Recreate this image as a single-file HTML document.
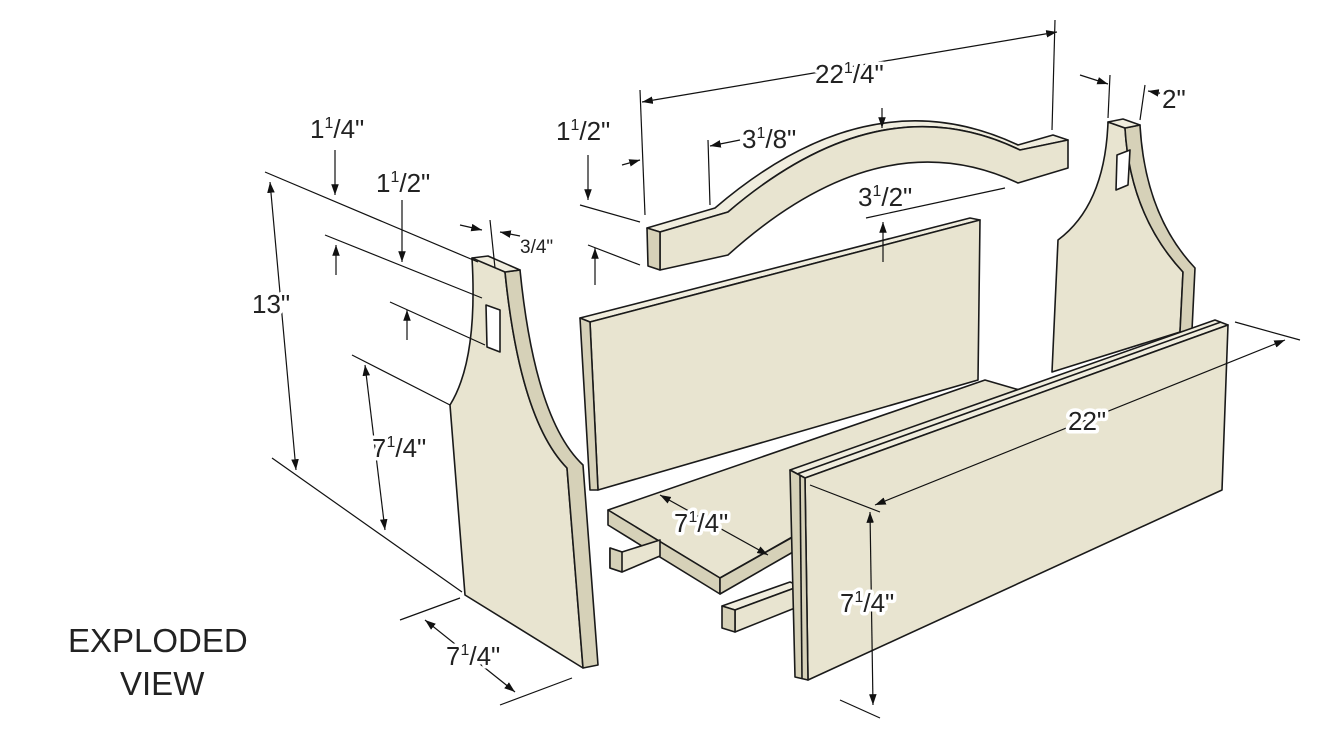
<!DOCTYPE html>
<html><head><meta charset="utf-8"><style>
html,body{margin:0;padding:0;background:#fff;}
svg{display:block}
text{font-family:"Liberation Sans",sans-serif;fill:#222;stroke:#fff;stroke-width:7px;paint-order:stroke;stroke-linejoin:round;}
.t{font-size:26px}
.s{font-size:16px}
</style></head><body>
<svg width="1330" height="741" viewBox="0 0 1330 741" xmlns="http://www.w3.org/2000/svg">
<defs><marker id="a" viewBox="0 0 10 10" refX="10" refY="5" markerWidth="9" markerHeight="9" orient="auto-start-reverse"><path d="M0,1.5 L10,5 L0,8.5 Z" fill="#111"/></marker></defs>
<g stroke="#1a1a1a" stroke-width="1.6" stroke-linejoin="round">
<path d="M1108,122 L1125,128 Q1130,215 1183,272 L1180,332 L1052,372 L1058,240 Q1105,205 1108,122 Z" fill="#e8e4d0"/>
<path d="M1125,128 L1140,125 Q1145,215 1195,268 L1192,330 L1180,332 L1183,272 Q1130,215 1125,128 Z" fill="#d6d1b8"/>
<path d="M1108,122 L1123,119 L1140,125 L1125,128 Z" fill="#f0edde"/>
<path d="M1117,155 L1130,150 L1128,185 L1116,190 Z" fill="#fff"/>
<path d="M647,228 L715,208 Q870,75 1018,145 L1053,135 L1068,140 L1020,150 Q880,82 728,212 L660,232 Z" fill="#f0edde"/>
<path d="M660,232 L728,212 Q880,82 1020,150 L1068,140 L1068,168 L1018,183 Q880,118 728,255 L660,270 Z" fill="#e8e4d0"/>
<path d="M647,228 L660,232 L660,270 L648,266 Z" fill="#d6d1b8"/>
<path d="M580,318 L970,218 L980,220 L590,322 Z" fill="#f0edde"/>
<path d="M590,322 L980,220 L978,380 L598,490 Z" fill="#e8e4d0"/>
<path d="M580,318 L590,322 L598,490 L590,490 Z" fill="#d6d1b8"/>
<path d="M608,510 L985,380 L1040,396 L720,578 Z" fill="#e8e4d0"/>
<path d="M608,510 L720,578 L720,594 L608,525 Z" fill="#d6d1b8"/>
<path d="M720,578 L800,533 L800,548 L720,594 Z" fill="#d6d1b8"/>
<path d="M610,548 L622,552 L660,540 L660,556 L622,572 L610,568 Z" fill="#e8e4d0"/>
<path d="M610,548 L622,552 L622,572 L610,568 Z" fill="#d6d1b8"/>
<path d="M722,606 L790,582 L800,586 L735,610 Z" fill="#f0edde"/>
<path d="M735,610 L800,586 L800,606 L735,632 Z" fill="#e8e4d0"/>
<path d="M722,606 L735,610 L735,632 L722,628 Z" fill="#d6d1b8"/>
<path d="M790,470 L1215,320 L1228,325 L805,478 Z" fill="#f0edde"/>
<path d="M805,478 L1228,325 L1222,490 L808,680 Z" fill="#e8e4d0"/>
<path d="M790,470 L805,478 L808,680 L795,677 Z" fill="#d6d1b8"/>
<path d="M797,474 L1221,322" fill="none"/>
<path d="M800,476 L802,678" fill="none"/>
<path d="M472,258 L490,264 L505,272 Q520,420 567,468 L583,668 L465,595 L450,405 Q478,360 472,258 Z" fill="#e8e4d0"/>
<path d="M505,272 L520,270 Q535,420 583,465 L598,665 L583,668 L567,468 Q520,420 505,272 Z" fill="#d6d1b8"/>
<path d="M472,258 L488,256 L520,270 L505,272 Z" fill="#f0edde"/>
<path d="M486,305 L500,310 L500,352 L487,347 Z" fill="#fff"/>
</g>
<g stroke="#111" stroke-width="1.2" fill="none">
<line x1="642" y1="102" x2="1057" y2="32" marker-start="url(#a)" marker-end="url(#a)"/>
<line x1="640" y1="90" x2="645" y2="215"/><line x1="1055" y1="20" x2="1052" y2="130"/>
<line x1="1080" y1="75" x2="1108" y2="84" marker-end="url(#a)"/><line x1="1170" y1="95" x2="1148" y2="91" marker-end="url(#a)"/>
<line x1="1110" y1="75" x2="1108" y2="118"/><line x1="1145" y1="85" x2="1140" y2="120"/>
<line x1="588" y1="155" x2="588" y2="200" marker-end="url(#a)"/>
<line x1="580" y1="205" x2="640" y2="222"/><line x1="588" y1="245" x2="640" y2="265"/>
<line x1="595" y1="285" x2="595" y2="248" marker-end="url(#a)"/>
<line x1="622" y1="165" x2="640" y2="160" marker-end="url(#a)"/>
<line x1="708" y1="140" x2="710" y2="205"/><line x1="740" y1="140" x2="710" y2="146" marker-end="url(#a)"/>
<line x1="866" y1="218" x2="1005" y2="188"/>
<line x1="883" y1="262" x2="883" y2="222" marker-end="url(#a)"/>
<line x1="882" y1="108" x2="882" y2="128" marker-end="url(#a)"/>
<line x1="265" y1="172" x2="478" y2="262"/>
<line x1="335" y1="150" x2="335" y2="195" marker-end="url(#a)"/>
<line x1="325" y1="235" x2="482" y2="298"/>
<line x1="402" y1="200" x2="402" y2="262" marker-end="url(#a)"/>
<line x1="336" y1="275" x2="336" y2="245" marker-end="url(#a)"/>
<line x1="390" y1="302" x2="485" y2="345"/>
<line x1="407" y1="340" x2="407" y2="310" marker-end="url(#a)"/>
<line x1="490" y1="220" x2="495" y2="268"/>
<line x1="460" y1="225" x2="482" y2="230" marker-end="url(#a)"/>
<line x1="520" y1="236" x2="500" y2="232" marker-end="url(#a)"/>
<line x1="270" y1="182" x2="296" y2="470" marker-start="url(#a)" marker-end="url(#a)"/>
<line x1="352" y1="355" x2="450" y2="405"/><line x1="272" y1="458" x2="462" y2="592"/>
<line x1="365" y1="365" x2="385" y2="530" marker-start="url(#a)" marker-end="url(#a)"/>
<line x1="425" y1="620" x2="515" y2="692" marker-start="url(#a)" marker-end="url(#a)"/>
<line x1="400" y1="620" x2="460" y2="598"/><line x1="500" y1="705" x2="572" y2="678"/>
<line x1="660" y1="495" x2="768" y2="555" marker-start="url(#a)" marker-end="url(#a)"/>
<line x1="875" y1="505" x2="1285" y2="340" marker-start="url(#a)" marker-end="url(#a)"/>
<line x1="1235" y1="322" x2="1300" y2="340"/><line x1="810" y1="485" x2="880" y2="512"/>
<line x1="870" y1="512" x2="873" y2="705" marker-start="url(#a)" marker-end="url(#a)"/>
<line x1="840" y1="700" x2="880" y2="718"/>
</g>
<g>
<text x="815" y="83" class="t">22<tspan class="s" dy="-10">1</tspan><tspan dy="10">/4"</tspan></text>
<text x="1162" y="108" class="t">2"</text>
<text x="556" y="140" class="t">1<tspan class="s" dy="-10">1</tspan><tspan dy="10">/2"</tspan></text>
<text x="742" y="148" class="t">3<tspan class="s" dy="-10">1</tspan><tspan dy="10">/8"</tspan></text>
<text x="858" y="206" class="t">3<tspan class="s" dy="-10">1</tspan><tspan dy="10">/2"</tspan></text>
<text x="310" y="138" class="t">1<tspan class="s" dy="-10">1</tspan><tspan dy="10">/4"</tspan></text>
<text x="376" y="192" class="t">1<tspan class="s" dy="-10">1</tspan><tspan dy="10">/2"</tspan></text>
<text x="520" y="253" style="font-size:19px">3/4"</text>
<text x="252" y="313" class="t">13"</text>
<text x="372" y="457" class="t">7<tspan class="s" dy="-10">1</tspan><tspan dy="10">/4"</tspan></text>
<text x="446" y="665" class="t">7<tspan class="s" dy="-10">1</tspan><tspan dy="10">/4"</tspan></text>
<text x="674" y="532" class="t">7<tspan class="s" dy="-10">1</tspan><tspan dy="10">/4"</tspan></text>
<text x="1068" y="430" class="t">22"</text>
<text x="840" y="612" class="t">7<tspan class="s" dy="-10">1</tspan><tspan dy="10">/4"</tspan></text>
<text x="68" y="652" style="font-size:33px">EXPLODED</text>
<text x="120" y="695" style="font-size:33px">VIEW</text>
</g>
</svg>
</body></html>
